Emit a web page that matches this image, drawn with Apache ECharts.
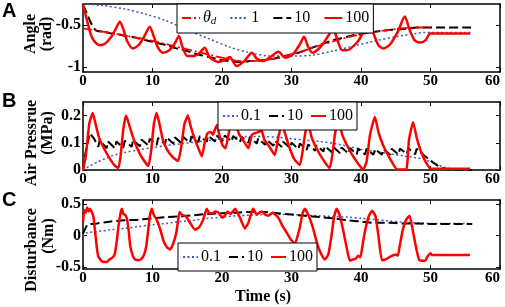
<!DOCTYPE html>
<html>
<head>
<meta charset="utf-8">
<script src="https://cdn.jsdelivr.net/npm/echarts@6/dist/echarts.min.js"></script>
<style>
html, body { margin: 0; padding: 0; background: #fff; }
#chart1 { width: 505px; height: 307px; }
</style>
</head>
<body>
<div id="chart1"></div>
<script>
// tick labels
var timeTicks = [0, 10, 20, 30, 40, 50, 60];
var angleTicks = [-1, -0.5];
var pressureTicks = [0, 0.1, 0.2];
var disturbanceTicks = [-0.5, 0, 0.5];

// A: angle (rad), [time, value]
var angleTheta = [[0, -0.54], [5, -0.61], [10, -0.69], [15, -0.79], [20, -0.89], [23, -0.93], [26, -0.92], [30, -0.85], [35, -0.72], [40, -0.61], [45, -0.55], [48, -0.53], [50, -0.53]];
var angle1 = [[0, -0.25], [3, -0.27], [6, -0.31], [9, -0.37], [12, -0.45], [15, -0.56], [18, -0.66], [21, -0.76], [24, -0.83], [27, -0.87], [30, -0.87], [33, -0.86], [36, -0.81], [39, -0.75], [42, -0.69], [45, -0.64], [48, -0.6], [49, -0.59], [56, -0.59]];
var angle10 = [[0, -0.26], [0.5, -0.35], [1, -0.45], [1.5, -0.53], [2, -0.57], [3, -0.58], [4, -0.6], [5, -0.61], [6, -0.63], [7, -0.64], [8, -0.66], [9, -0.68], [10, -0.7], [11, -0.72], [12, -0.74], [13, -0.77], [14, -0.79], [15, -0.81], [16, -0.84], [17, -0.86], [18, -0.88], [19, -0.9], [20, -0.92], [21, -0.93], [22, -0.94], [23, -0.94], [24, -0.93], [25, -0.93], [26, -0.92], [27, -0.91], [28, -0.89], [29, -0.87], [30, -0.85], [31, -0.83], [32, -0.8], [33, -0.77], [34, -0.74], [35, -0.71], [36, -0.68], [37, -0.66], [38, -0.64], [39, -0.62], [40, -0.61], [41, -0.59], [42, -0.58], [43, -0.57], [44, -0.56], [45, -0.55], [46, -0.55], [47, -0.54], [48, -0.53], [56, -0.53]];
var angle100 = [[0, -0.26], [0.5, -0.42], [1, -0.58], [1.5, -0.68], [2.4, -0.74], [3.2, -0.72], [4, -0.65], [4.7, -0.55], [5.3, -0.46], [5.8, -0.55], [6.4, -0.7], [7.2, -0.78], [8, -0.74], [8.8, -0.64], [9.6, -0.52], [10.2, -0.64], [10.8, -0.77], [11.5, -0.83], [12.4, -0.8], [13.2, -0.72], [13.8, -0.63], [14.3, -0.76], [15, -0.87], [16, -0.87], [16.8, -0.83], [17.5, -0.77], [18.2, -0.88], [19.4, -0.94], [20.3, -0.92], [21.1, -0.88], [22.1, -0.99], [23.2, -0.93], [24.3, -0.83], [25, -0.9], [25.9, -0.93], [27, -0.88], [28.1, -0.82], [29.1, -0.89], [30.2, -0.85], [31.2, -0.73], [31.8, -0.64], [32.4, -0.76], [33, -0.83], [34.2, -0.76], [35.2, -0.64], [36, -0.54], [36.6, -0.68], [37.3, -0.8], [38, -0.8], [39.5, -0.7], [40.5, -0.56], [41.2, -0.46], [41.8, -0.6], [42.5, -0.74], [43.2, -0.78], [44.2, -0.73], [45.3, -0.58], [46.3, -0.4], [47, -0.56], [47.7, -0.68], [48.5, -0.71], [49.3, -0.68], [50, -0.6], [55.7, -0.6]];

// B: air pressure (MPa)
var pressure01 = [[0, 0], [0.5, 0.008], [1, 0.015], [2, 0.028], [3, 0.04], [4, 0.05], [5, 0.058], [6, 0.064], [8, 0.074], [10, 0.082], [12, 0.09], [14, 0.096], [16, 0.102], [18, 0.108], [20, 0.115], [22, 0.12], [24, 0.123], [26, 0.123], [28, 0.12], [30, 0.115], [32, 0.11], [34, 0.105], [36, 0.098], [38, 0.088], [40, 0.076], [42, 0.068], [44, 0.06], [46, 0.052], [48, 0.045], [49, 0.04], [50, 0.03], [51, 0.02], [52, 0.01], [53, 0.004], [54, 0.001], [56, 0]];
var pressure10 = [[0, 0], [0.4, 0.07], [1, 0.135], [1.6, 0.115], [2.2, 0.085], [2.4, 0.11], [3.4, 0.08], [3.6, 0.105], [4.6, 0.08], [4.8, 0.105], [5.8, 0.082], [6, 0.108], [7, 0.085], [7.2, 0.11], [8.2, 0.087], [8.4, 0.112], [9.4, 0.09], [9.6, 0.115], [10.6, 0.092], [10.8, 0.118], [11.8, 0.095], [12, 0.12], [13, 0.097], [13.2, 0.12], [14.2, 0.098], [14.4, 0.122], [15.4, 0.1], [15.6, 0.124], [16.6, 0.102], [16.8, 0.125], [17.8, 0.104], [18, 0.126], [19, 0.105], [19.2, 0.127], [20.2, 0.106], [20.4, 0.127], [21.4, 0.105], [21.6, 0.125], [22.6, 0.103], [22.8, 0.122], [23.8, 0.1], [24, 0.12], [25, 0.097], [25.2, 0.116], [26.2, 0.093], [26.4, 0.112], [27.4, 0.089], [27.6, 0.108], [28.6, 0.085], [28.8, 0.104], [29.8, 0.081], [30, 0.1], [31, 0.077], [31.2, 0.097], [32.2, 0.074], [32.4, 0.094], [33.4, 0.071], [33.6, 0.091], [34.6, 0.068], [34.8, 0.088], [35.8, 0.065], [36, 0.085], [37, 0.062], [37.2, 0.083], [38.2, 0.06], [38.4, 0.081], [39.4, 0.058], [39.6, 0.079], [40.6, 0.057], [40.8, 0.078], [41.8, 0.056], [42, 0.077], [43, 0.056], [43.2, 0.077], [44.2, 0.056], [44.4, 0.078], [45.4, 0.057], [45.6, 0.079], [46.6, 0.058], [46.8, 0.08], [47.8, 0.058], [48, 0.078], [49, 0.055], [49.5, 0.045], [50.5, 0.025], [51.5, 0.008], [52.5, 0.002], [56, 0]];
var pressure100 = [[0, 0], [0.4, 0.05], [0.9, 0.17], [1.4, 0.21], [1.8, 0.17], [2.3, 0.12], [3, 0.08], [3.9, 0.04], [4.6, 0.015], [5.1, 0.007], [5.4, 0.05], [5.8, 0.15], [6.2, 0.2], [6.6, 0.17], [7.2, 0.12], [7.8, 0.08], [8.5, 0.045], [9.4, 0.015], [9.8, 0.07], [10.2, 0.17], [10.6, 0.21], [11, 0.17], [11.5, 0.11], [12.2, 0.07], [13, 0.045], [13.7, 0.033], [14.1, 0.08], [14.6, 0.17], [15.1, 0.2], [15.5, 0.16], [16, 0.12], [16.6, 0.08], [17.1, 0.05], [17.5, 0.1], [17.9, 0.135], [18.4, 0.14], [18.7, 0.13], [19, 0.15], [19.3, 0.165], [19.6, 0.13], [20.1, 0.09], [20.5, 0.08], [21, 0.14], [21.5, 0.19], [21.9, 0.17], [22.5, 0.13], [23.1, 0.107], [23.8, 0.08], [24.3, 0.13], [24.7, 0.135], [25.3, 0.14], [25.7, 0.145], [26.1, 0.11], [26.7, 0.09], [27.2, 0.07], [27.6, 0.055], [28.1, 0.12], [28.6, 0.17], [29, 0.14], [29.6, 0.09], [30.4, 0.04], [31.2, 0.018], [31.6, 0.07], [32, 0.14], [32.4, 0.17], [32.9, 0.12], [33.6, 0.08], [34.5, 0.04], [35.5, 0.007], [35.9, 0.06], [36.3, 0.14], [36.8, 0.18], [37.3, 0.13], [38, 0.09], [39, 0.045], [40.3, 0.002], [40.8, 0.03], [41.3, 0.13], [42, 0.195], [42.5, 0.14], [43.2, 0.09], [44, 0.05], [45.2, 0.002], [46.5, 0.002], [46.9, 0.11], [47.5, 0.176], [48, 0.12], [48.6, 0.07], [49.3, 0.03], [50, 0.005], [55.7, 0.005]];

// C: disturbance (Nm)
var dist01 = [[0, -0.02], [0.5, 0.04], [2, 0.06], [4, 0.09], [6, 0.11], [8, 0.14], [10, 0.17], [12, 0.19], [14, 0.22], [16, 0.24], [18, 0.27], [20, 0.29], [22, 0.31], [24, 0.32], [26, 0.33], [28, 0.33], [30, 0.33], [32, 0.32], [34, 0.31], [36, 0.3], [38, 0.29], [40, 0.27], [42, 0.25], [44, 0.23], [46, 0.21], [48, 0.2], [50, 0.19], [56, 0.19]];
var dist10 = [[0, 0.03], [0.3, 0.1], [0.7, 0.17], [2, 0.19], [4, 0.22], [6, 0.24], [8, 0.25], [10, 0.27], [12, 0.29], [14, 0.3], [16, 0.32], [18, 0.34], [20, 0.35], [22, 0.36], [24, 0.37], [26, 0.37], [28, 0.35], [30, 0.33], [32, 0.31], [34, 0.29], [36, 0.27], [38, 0.24], [40, 0.22], [42, 0.2], [44, 0.2], [46, 0.19], [48, 0.19], [50, 0.18], [56, 0.18]];
var dist100 = [[0, 0.22], [0.2, 0.4], [0.4, 0.36], [0.6, 0.44], [0.8, 0.38], [1, 0.42], [1.3, 0.36], [1.5, 0.3], [1.7, 0.1], [2, -0.2], [2.2, -0.33], [2.7, -0.41], [3.4, -0.42], [3.8, -0.38], [4.1, -0.36], [4.4, -0.33], [4.6, -0.28], [4.9, -0.05], [5.1, 0.14], [5.4, 0.35], [5.6, 0.42], [5.8, 0.34], [6.1, 0.32], [6.3, 0.27], [6.6, 0.05], [6.8, -0.17], [7.2, -0.33], [7.5, -0.38], [8, -0.39], [8.4, -0.37], [8.8, -0.3], [9.1, -0.17], [9.4, 0.1], [9.6, 0.3], [9.9, 0.42], [10.2, 0.32], [10.6, 0.25], [11.1, 0.1], [11.6, -0.09], [12.1, -0.19], [12.5, -0.22], [12.9, -0.15], [13.4, 0.03], [13.7, 0.25], [13.9, 0.37], [14.2, 0.33], [14.8, 0.3], [15.4, 0.2], [16.1, 0.09], [16.7, 0.13], [17.3, 0.25], [17.8, 0.42], [18.2, 0.35], [18.7, 0.35], [19, 0.38], [19.4, 0.37], [20.1, 0.28], [20.5, 0.33], [20.8, 0.38], [21.2, 0.34], [21.9, 0.42], [22.5, 0.3], [23.3, 0.11], [23.8, 0.2], [24.2, 0.35], [24.5, 0.42], [25, 0.33], [25.7, 0.38], [26.2, 0.33], [26.6, 0.31], [27.3, 0.36], [28.1, 0.28], [28.7, 0.15], [29.4, 0.03], [30, -0.08], [30.5, -0.13], [30.9, 0], [31.2, 0.13], [31.6, 0.35], [31.9, 0.42], [32.4, 0.33], [33, 0.15], [33.8, -0.17], [34.3, -0.3], [34.8, -0.38], [35.3, -0.3], [35.8, 0.03], [36.1, 0.28], [36.5, 0.42], [36.9, 0.33], [37.4, 0.1], [37.9, -0.17], [38.4, -0.4], [38.8, -0.38], [39.2, -0.37], [39.6, -0.32], [39.9, -0.35], [40.3, -0.1], [40.6, 0.08], [41.1, 0.3], [41.6, 0.39], [42.1, 0.3], [42.5, 0], [43, -0.39], [43.5, -0.38], [44, -0.35], [44.5, -0.32], [45, -0.3], [45.3, -0.32], [45.6, -0.15], [46, 0.08], [46.5, 0.25], [47, 0.31], [47.5, 0.05], [48, -0.23], [48.4, -0.39], [49.2, -0.4], [49.6, -0.33], [50, -0.28], [50.2, -0.31], [55.7, -0.31]];

var serif = "Liberation Serif";
var grids = [
	{ left: 83, right: 5, top: 4, height: 68 },
	{ left: 83, right: 5, top: 102, height: 68 },
	{ left: 83, right: 5, top: 200, height: 69 },
];

function xAxisFor(g, pos) {
	return {
		type: "value", gridIndex: g, position: pos, min: 0, max: 60, interval: 10,
		axisLine: { onZero: false, lineStyle: { color: "#000", width: 1.5 } },
		axisTick: { inside: true, length: 4, lineStyle: { color: "#000" } },
		splitLine: { show: false },
		axisLabel: { show: pos === "bottom", color: "#000", fontFamily: serif, fontWeight: "bold", fontSize: 15, margin: 2,
			customValues: timeTicks, alignMaxLabel: "right" },
	};
}
function yAxisFor(g, pos, min, max, ticks) {
	return {
		type: "value", gridIndex: g, position: pos, min: min, max: max,
		axisLine: { onZero: false, lineStyle: { color: "#000", width: 1.5 } },
		axisTick: { inside: true, length: 4, lineStyle: { color: "#000" }, customValues: ticks },
		splitLine: { show: false },
		axisLabel: { show: pos === "left", color: "#000", fontFamily: serif, fontWeight: "bold", fontSize: 16, margin: 2,
			customValues: ticks },
	};
}

var blueDot = { color: "#3c55c8", width: 1.5, type: [2, 2.5] };
var blackDash = { color: "#000", width: 2, type: [9, 4] };
var redSolid = { color: "#ff0000", width: 2.5 };
var redDashDot = { color: "#ff0000", width: 1.8, type: [9, 3, 2, 3] };

function line(name, data, g, style, smooth) {
	return {
		name: name, type: "line", data: data, xAxisIndex: g * 2, yAxisIndex: g * 2,
		symbol: "none", smooth: smooth || 0, lineStyle: style, itemStyle: { color: style.color },
		animation: false, z: 2,
	};
}

function legendFor(left, top, names, itemWidth, itemGap) {
	return {
		left: left, top: top, data: names, orient: "horizontal",
		itemWidth: itemWidth, itemHeight: 14, itemGap: itemGap,
		padding: [6, 4, 6, 4],
		itemStyle: { opacity: 0 },
		backgroundColor: "#fff", borderColor: "#000", borderWidth: 1, borderRadius: 0,
		textStyle: {
			fontFamily: serif, fontSize: 16, color: "#000", padding: [0, 0, 0, -2],
			rich: {
				i: { fontFamily: serif, fontStyle: "italic", fontSize: 16, color: "#000" },
				s: { fontFamily: serif, fontStyle: "italic", fontSize: 11, color: "#000", verticalAlign: "bottom", padding: [7, 0, 0, 0] },
			},
		},
		formatter: function (name) {
			return name === "θd" ? "{i|θ}{s|d}" : name;
		},
		selectedMode: false,
	};
}

function sideText(txt, x, y) {
	return {
		type: "text", x: x, y: y, rotation: Math.PI / 2,
		style: { text: txt, x: 0, y: 0, align: "center", verticalAlign: "middle", font: "bold 16px 'Liberation Serif'", fill: "#000" },
	};
}
function letter(txt, y) {
	return {
		type: "text", x: 2, y: y,
		style: { text: txt, font: "bold 20px 'Liberation Sans'", fill: "#000" },
	};
}

var myChart = echarts.init(document.getElementById("chart1"));

var option = {
	backgroundColor: "#fff",
	animation: false,
	grid: grids.map(function (g) { return Object.assign({ show: false, outerBoundsMode: "none" }, g); }),
	xAxis: [
		xAxisFor(0, "bottom"), xAxisFor(0, "top"),
		xAxisFor(1, "bottom"), xAxisFor(1, "top"),
		xAxisFor(2, "bottom"), xAxisFor(2, "top"),
	],
	yAxis: [
		yAxisFor(0, "left", -1.06, -0.25, angleTicks), yAxisFor(0, "right", -1.06, -0.25, angleTicks),
		yAxisFor(1, "left", 0, 0.25, pressureTicks), yAxisFor(1, "right", 0, 0.25, pressureTicks),
		yAxisFor(2, "left", -0.53, 0.56, disturbanceTicks), yAxisFor(2, "right", -0.53, 0.56, disturbanceTicks),
	],
	legend: [
		legendFor(177, 4, ["θd", "1", "10", "100"], 18, 13),
		legendFor(218, 102, ["0.1", "10", "100"], 15, 7),
		legendFor(178, 243, ["0.1", "10", "100"], 15, 7),
	],
	series: [
		line("1", angle1, 0, blueDot, 0.3),
		line("10", angle10, 0, blackDash, 0.3),
		line("θd", angleTheta, 0, redDashDot, 0.4),
		line("100", angle100, 0, redSolid, 0.25),
		line("0.1", pressure01, 1, blueDot, 0.3),
		line("10", pressure10, 1, blackDash),
		line("100", pressure100, 1, redSolid, 0.15),
		line("0.1", dist01, 2, blueDot, 0.3),
		line("10", dist10, 2, blackDash, 0.3),
		line("100", dist100, 2, redSolid, 0.15),
	],
	graphic: [
		letter("A", 1), letter("B", 91), letter("C", 190),
		sideText("Angle", 31, 34), sideText("(rad)", 47, 34),
		sideText("Air Pressrue", 32, 143), sideText("(MPa)", 48, 133),
		sideText("Disturbance", 32, 250), sideText("(Nm)", 49, 236),
		{ type: "text", x: 235, y: 289, style: { text: "Time (s)", font: "bold 16px 'Liberation Serif'", fill: "#000" } },
	],
};

myChart.setOption(option);
</script>
</body>
</html>
